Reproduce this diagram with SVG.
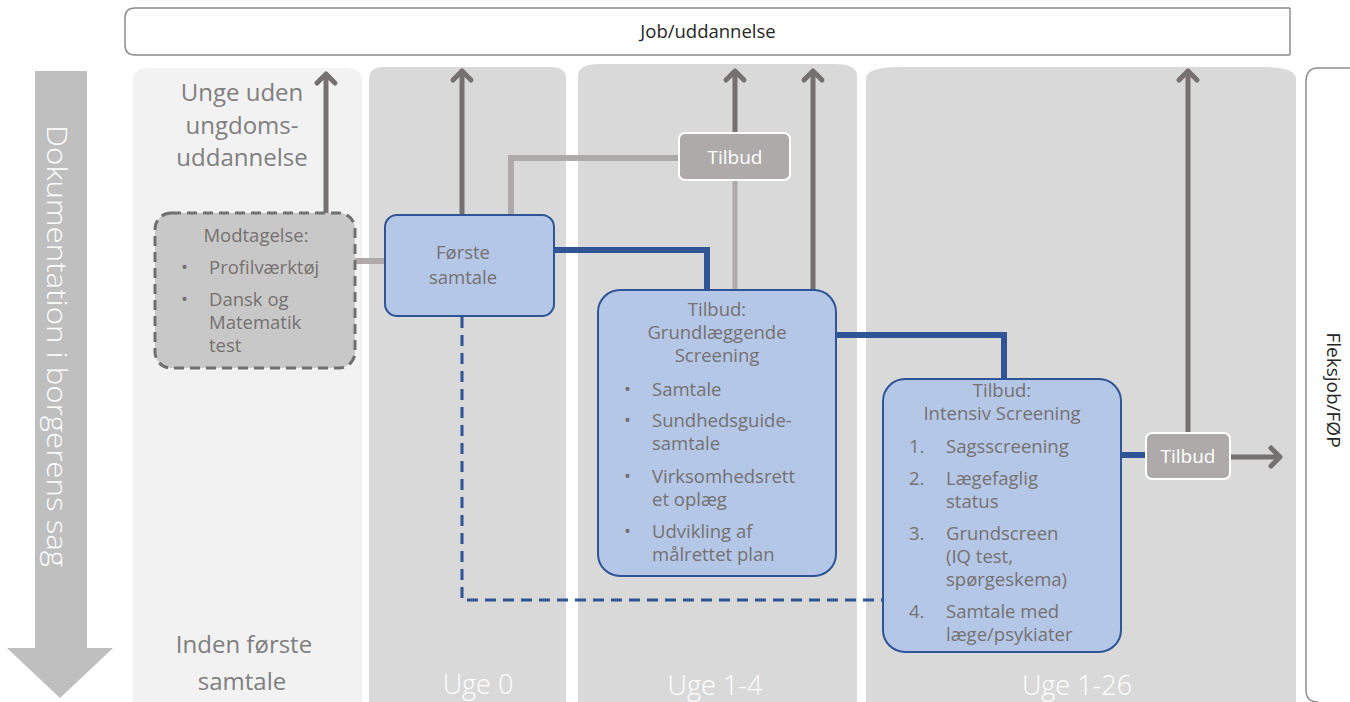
<svg xmlns="http://www.w3.org/2000/svg" width="1350" height="702" viewBox="0 0 1350 702">
<defs>
<style>
text{font-family:"Open Sans","Liberation Sans",sans-serif;}
.g{fill:#767171;font-size:18.5px;}
.gc{fill:#767171;font-size:18.5px;text-anchor:middle;}
.big{fill:#7f7f7f;font-size:24px;text-anchor:middle;}
.uge{fill:#ffffff;font-size:27px;font-weight:300;text-anchor:middle;}
.w{fill:#ffffff;font-size:19px;text-anchor:middle;}
.blue{fill:#b4c7e7;stroke:#2f5597;stroke-width:2;}
.tb{fill:#aeaaaa;stroke:#ffffff;stroke-width:2;}
.dk{stroke:#767171;stroke-width:5;fill:none;}
.lt{stroke:#aeaaaa;stroke-width:6;fill:none;}
.bl{stroke:#2f5597;stroke-width:6;fill:none;}
.panel{fill:#d9d9d9;}
</style>
<marker id="arr" markerUnits="userSpaceOnUse" viewBox="-14 -12 18 24" markerWidth="18" markerHeight="24" refX="0" refY="0" orient="auto" overflow="visible">
<path d="M -9 -9 L 0 0 L -9 9" fill="none" stroke="#767171" stroke-width="5" stroke-linecap="round" stroke-linejoin="round"/>
</marker>
</defs>

<g id="background">
<path d="M133 702 V80 Q133 68 150 68 H345 Q362 68 362 80 V702 Z" fill="#f2f2f2"/>
<path d="M369 702 V79 Q369 67 384 67 H551 Q566 67 566 79 V702 Z" class="panel"/>
<path d="M578 702 V76 Q578 64 600 64 H835 Q857 64 857 76 V702 Z" class="panel"/>
<path d="M866 702 V79 Q866 67 900 67 H1262 Q1296 67 1296 79 V702 Z" class="panel"/>
</g>

<g id="top-bar">
<path d="M1290 8 H135 Q125 8 125 18 V45 Q125 55 135 55 H1290" fill="#ffffff" stroke="#8c8c8c" stroke-width="1.5"/>
<path d="M1290 8 V55" fill="none" stroke="#8c8c8c" stroke-width="1.5"/>
<text x="708" y="38" font-size="18.5" text-anchor="middle" fill="#262626">Job/uddannelse</text>
</g>

<g id="side-bracket">
<path d="M1350 68 H1318 Q1306 68 1306 82 V690 Q1306 702 1318 702" fill="#ffffff" stroke="#8c8c8c" stroke-width="1.5"/>
<text transform="translate(1327 390) rotate(90)" font-size="19" text-anchor="middle" fill="#262626">Fleksjob/FØP</text>
</g>

<g id="doc-arrow">
<path d="M35 71 H87 V648 H113 L60 698 L7 648 H35 Z" fill="#bfbfbf"/>
<text transform="translate(47 346) rotate(90)" font-size="28" font-weight="300" text-anchor="middle" fill="#ffffff" textLength="442" lengthAdjust="spacingAndGlyphs">Dokumentation i borgerens sag</text>
</g>

<g id="col-labels">
<text class="big" x="242" y="101">Unge uden</text>
<text class="big" x="242" y="134">ungdoms-</text>
<text class="big" x="242" y="166">uddannelse</text>
<text class="big" x="244" y="653">Inden første</text>
<text class="big" x="242" y="690">samtale</text>
<text class="uge" x="478" y="694">Uge 0</text>
<text class="uge" x="715" y="695">Uge 1-4</text>
<text class="uge" x="1077" y="695">Uge 1-26</text>
</g>

<g id="connectors">
<path class="dk" d="M326 213 V74" marker-end="url(#arr)"/>
<path class="dk" d="M462 215 V71" marker-end="url(#arr)"/>
<path class="dk" d="M735 133 V71" marker-end="url(#arr)"/>
<path class="dk" d="M813 290 V71" marker-end="url(#arr)"/>
<path class="dk" d="M1188 433 V71" marker-end="url(#arr)"/>
<path class="dk" d="M1231 457 H1280" marker-end="url(#arr)"/>
<path class="lt" d="M355 261 H385"/>
<path class="lt" d="M511 215 V158 H679"/>
<path d="M735 180 V290" fill="none" stroke="#aeaaaa" stroke-width="5"/>
<path class="bl" d="M554 250 H707 V290"/>
<path class="bl" d="M836 335 H1004 V379"/>
<path class="bl" d="M1121 455 H1146"/>
<path d="M462 317 V600 H883" fill="none" stroke="#2f5597" stroke-width="3" stroke-dasharray="11 7"/>
</g>

<g id="modtagelse">
<rect x="155" y="213" width="200" height="155" rx="16" fill="#c8c8c8" stroke="#707070" stroke-width="3" stroke-dasharray="10 6"/>
<text class="gc" x="256" y="242">Modtagelse:</text>
<text class="g" x="181" y="274">•</text><text class="g" x="209" y="274">Profilværktøj</text>
<text class="g" x="181" y="306">•</text><text class="g" x="209" y="306">Dansk og</text>
<text class="g" x="209" y="329">Matematik</text>
<text class="g" x="209" y="352">test</text>
</g>

<g id="forste-samtale">
<rect class="blue" x="385" y="215" width="169" height="101" rx="12"/>
<text class="gc" x="463" y="259">Første</text>
<text class="gc" x="463" y="284">samtale</text>
</g>

<g id="tilbud-1">
<rect class="tb" x="679" y="133" width="111" height="47" rx="6"/>
<text class="w" x="735" y="164">Tilbud</text>
</g>

<g id="grundlaeggende">
<rect class="blue" x="598" y="290" width="238" height="286" rx="22"/>
<text class="gc" x="717" y="316">Tilbud:</text>
<text class="gc" x="717" y="339">Grundlæggende</text>
<text class="gc" x="717" y="362">Screening</text>
<text class="g" x="624" y="396">•</text><text class="g" x="652" y="396">Samtale</text>
<text class="g" x="624" y="427">•</text><text class="g" x="652" y="427">Sundhedsguide-</text>
<text class="g" x="652" y="450">samtale</text>
<text class="g" x="624" y="483">•</text><text class="g" x="652" y="483">Virksomhedsrett</text>
<text class="g" x="652" y="506">et oplæg</text>
<text class="g" x="624" y="538">•</text><text class="g" x="652" y="538">Udvikling af</text>
<text class="g" x="652" y="561">målrettet plan</text>
</g>

<g id="intensiv">
<rect class="blue" x="883" y="379" width="238" height="273" rx="22"/>
<text class="gc" x="1002" y="397">Tilbud:</text>
<text class="gc" x="1002" y="420">Intensiv Screening</text>
<text class="g" x="909" y="453">1.</text><text class="g" x="946" y="453">Sagsscreening</text>
<text class="g" x="909" y="485">2.</text><text class="g" x="946" y="485">Lægefaglig</text>
<text class="g" x="946" y="508">status</text>
<text class="g" x="909" y="540">3.</text><text class="g" x="946" y="540">Grundscreen</text>
<text class="g" x="946" y="563">(IQ test,</text>
<text class="g" x="946" y="586">spørgeskema)</text>
<text class="g" x="909" y="618">4.</text><text class="g" x="946" y="618">Samtale med</text>
<text class="g" x="946" y="641">læge/psykiater</text>
</g>

<g id="tilbud-2">
<rect class="tb" x="1146" y="433" width="84" height="46" rx="6"/>
<text class="w" x="1188" y="463">Tilbud</text>
</g>
</svg>
